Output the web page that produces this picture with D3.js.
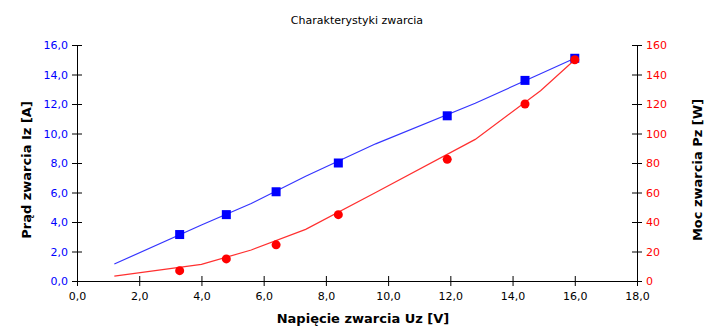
<!DOCTYPE html>
<html>
<head>
<meta charset="utf-8">
<script src="https://cdn.jsdelivr.net/npm/d3@7"></script>
<style>
  body { margin: 0; background: #fff; }
  text { font-family: "DejaVu Sans", sans-serif; }
</style>
</head>
<body>
<div id="chart"></div>
<script>
// measured points
const uz = [3.3, 4.8, 6.4, 8.4, 11.9, 14.4, 16.0];
const iz = [3.15, 4.5, 6.05, 8.0, 11.2, 13.6, 15.1];
const pz = [7, 15, 24.5, 45, 82.5, 120, 150];

// trend lines
const fitU = [1.2, 4.0, 5.6, 7.35, 9.6, 12.8, 14.9, 16.0];
const fitI = [1.15, 3.8, 5.25, 7.1, 9.3, 12.05, 14.05, 15.1];
const fitP = [3.3, 11.3, 21, 35, 60, 96, 129, 150];

const xTicks = d3.range(0, 18.1, 2);
const yTicks = d3.range(0, 16.1, 2);
const y2Ticks = d3.range(0, 161, 20);

const width = 708, height = 330;
const margin = {left: 77, right: 71, top: 45, bottom: 49};

const svg = d3.select("#chart").append("svg")
  .attr("width", width)
  .attr("height", height);

const x = d3.scaleLinear().domain([0, 18]).range([margin.left, width - margin.right]);
const y = d3.scaleLinear().domain([0, 16]).range([height - margin.bottom, margin.top]);
const y2 = d3.scaleLinear().domain([0, 160]).range([height - margin.bottom, margin.top]);

const fmt = d => d.toFixed(1).replace(".", ",");

// AXES ======================================
const xAxis = svg.append("g")
  .attr("transform", `translate(0, ${y(0)})`)
  .call(d3.axisBottom(x).tickValues(xTicks).tickFormat(fmt).tickSizeInner(5).tickSizeOuter(0).tickPadding(6));
xAxis.selectAll(".tick line").attr("y1", -5);
xAxis.selectAll("text").attr("fill", "#000").style("font-size", "11px");

const yAxis = svg.append("g")
  .attr("transform", `translate(${x(0)}, 0)`)
  .call(d3.axisLeft(y).tickValues(yTicks).tickFormat(fmt).tickSizeInner(5).tickSizeOuter(0).tickPadding(4));
yAxis.selectAll(".tick line").attr("x1", 5);
yAxis.selectAll("text").attr("fill", "#0000ff").style("font-size", "11px");

const y2Axis = svg.append("g")
  .attr("transform", `translate(${x(18)}, 0)`)
  .call(d3.axisRight(y2).tickValues(y2Ticks).tickFormat(d3.format("d")).tickSizeInner(5).tickSizeOuter(0).tickPadding(4));
y2Axis.selectAll(".tick line").attr("x1", -5);
y2Axis.selectAll("text").attr("fill", "#ff0000").style("font-size", "11px");

svg.selectAll(".domain").attr("stroke", "#000");
svg.selectAll(".tick line").attr("stroke", "#000");

// TITLES ====================================
svg.append("text")
  .attr("x", (x(0) + x(18)) / 2)
  .attr("y", 24)
  .attr("text-anchor", "middle")
  .style("font-size", "11px")
  .text("Charakterystyki zwarcia");

svg.append("text")
  .attr("x", 363)
  .attr("y", 323)
  .attr("text-anchor", "middle")
  .style("font-size", "13px")
  .style("font-weight", "bold")
  .text("Napięcie zwarcia Uz [V]");

svg.append("text")
  .attr("transform", `translate(31, 170) rotate(-90)`)
  .attr("text-anchor", "middle")
  .style("font-size", "13px")
  .style("font-weight", "bold")
  .text("Prąd zwarcia Iz [A]");

svg.append("text")
  .attr("transform", `translate(702, 170) rotate(-90)`)
  .attr("text-anchor", "middle")
  .style("font-size", "13px")
  .style("font-weight", "bold")
  .text("Moc zwarcia Pz [W]");

// LINES =====================================
const fitIData = fitU.map((u, i) => [u, fitI[i]]);
const fitPData = fitU.map((u, i) => [u, fitP[i]]);

svg.append("path")
  .datum(fitPData)
  .attr("fill", "none")
  .attr("stroke", "#ff3030")
  .attr("stroke-width", 1.2)
  .attr("d", d3.line().x(d => x(d[0])).y(d => y2(d[1])));

svg.append("path")
  .datum(fitIData)
  .attr("fill", "none")
  .attr("stroke", "#3535ff")
  .attr("stroke-width", 1.2)
  .attr("d", d3.line().x(d => x(d[0])).y(d => y(d[1])));

// MARKERS ===================================
svg.selectAll("rect.iz")
  .data(uz.map((u, i) => [u, iz[i]]))
  .join("rect")
  .attr("class", "iz")
  .attr("x", d => x(d[0]) - 4.5)
  .attr("y", d => y(d[1]) - 4.5)
  .attr("width", 9)
  .attr("height", 9)
  .attr("fill", "#0000ff");

svg.selectAll("circle.pz")
  .data(uz.map((u, i) => [u, pz[i]]))
  .join("circle")
  .attr("class", "pz")
  .attr("cx", d => x(d[0]))
  .attr("cy", d => y2(d[1]))
  .attr("r", 4.5)
  .attr("fill", "#ff0000");
</script>
</body>
</html>
